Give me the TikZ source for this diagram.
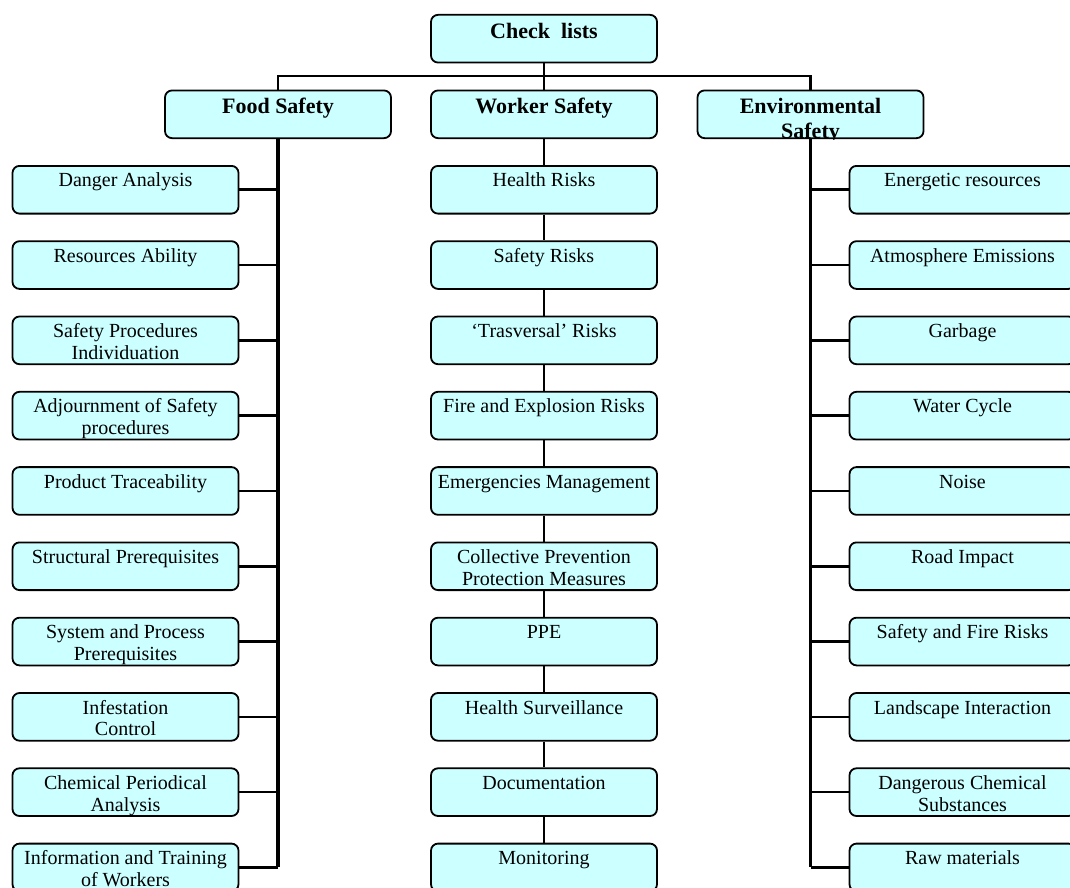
\documentclass[tikz,border=0pt]{standalone}
\usepackage{fontspec}
\setmainfont{Liberation Serif}
\usepackage{tikz}
\definecolor{boxcyan}{HTML}{CCFFFF}
\tikzset{
  listbox/.style={draw, line width=1.8pt, rounded corners=7pt, fill=boxcyan,
    inner xsep=2pt, inner ysep=5.85pt, font=\fontsize{20}{21.7}\selectfont,
    execute at begin node={\begin{minipage}[t][36pt][t]{222pt}\centering\strut},
    execute at end node={\end{minipage}}},
  headbox/.style={listbox, font=\bfseries\fontsize{22}{25}\selectfont},
  branchline/.style={line width=2.6pt},
  spineline/.style={line width=3.5pt}
}
\begin{document}
\begin{tikzpicture}[x=1pt, y=-1pt]
  \useasboundingbox (0,0) rectangle (1070,888);
  \clip (0,0) rectangle (1070,888);
  % Top level
  \node[headbox] (check) at (544,38.7) {Check\ \ lists};
  \coordinate (bus) at (544,76);
  \node[headbox] (food) at (278,114.3) {Food Safety};
  \node[headbox] (worker) at (544,114.3) {Worker Safety};
  \begin{scope}
    \clip (680,0) rectangle (940,139);
    \node[headbox] (env) at (810.5,114.3) {Environmental\\Safety};
  \end{scope}
  \draw[branchline] (check.south) -- (worker.north);
  \draw[branchline] (food.north) |- (bus) -| (env.north);
  % Food safety column
  \node[listbox] (f1) at (125.5,189.75) {Danger Analysis};
  \node[listbox] (f2) at (125.5,265.05) {Resources Ability};
  \node[listbox] (f3) at (125.5,340.35) {Safety Procedures\\Individuation};
  \node[listbox] (f4) at (125.5,415.65) {Adjournment of Safety\\procedures};
  \node[listbox] (f5) at (125.5,490.95) {Product Traceability};
  \node[listbox] (f6) at (125.5,566.25) {Structural Prerequisites};
  \node[listbox] (f7) at (125.5,641.55) {System and Process\\Prerequisites};
  \node[listbox] (f8) at (125.5,716.85) {Infestation\\Control};
  \node[listbox] (f9) at (125.5,792.15) {Chemical Periodical\\Analysis};
  \node[listbox] (f10) at (125.5,867.45) {Information and Training\\of Workers};
  \draw[branchline] (food.south |- f1.east) -- (f1.east)
    (food.south |- f2.east) -- (f2.east) (food.south |- f3.east) -- (f3.east)
    (food.south |- f4.east) -- (f4.east) (food.south |- f5.east) -- (f5.east)
    (food.south |- f6.east) -- (f6.east) (food.south |- f7.east) -- (f7.east)
    (food.south |- f8.east) -- (f8.east) (food.south |- f9.east) -- (f9.east)
    (food.south |- f10.east) -- (f10.east);
  \draw[spineline] (food.south) -- (food.south |- f10.east);
  % Worker safety column
  \node[listbox] (w1) at (544,189.75) {Health Risks};
  \node[listbox] (w2) at (544,265.05) {Safety Risks};
  \node[listbox] (w3) at (544,340.35) {‘Trasversal’ Risks};
  \node[listbox] (w4) at (544,415.65) {Fire and Explosion Risks};
  \node[listbox] (w5) at (544,490.95) {Emergencies Management};
  \node[listbox] (w6) at (544,566.25) {Collective Prevention\\Protection Measures};
  \node[listbox] (w7) at (544,641.55) {PPE};
  \node[listbox] (w8) at (544,716.85) {Health Surveillance};
  \node[listbox] (w9) at (544,792.15) {Documentation};
  \node[listbox] (w10) at (544,867.45) {Monitoring};
  \draw[branchline] (worker.south) -- (w1.north) (w1.south) -- (w2.north)
    (w2.south) -- (w3.north) (w3.south) -- (w4.north) (w4.south) -- (w5.north)
    (w5.south) -- (w6.north) (w6.south) -- (w7.north) (w7.south) -- (w8.north)
    (w8.south) -- (w9.north) (w9.south) -- (w10.north);
  % Environmental safety column
  \node[listbox] (e1) at (962.5,189.75) {Energetic resources};
  \node[listbox] (e2) at (962.5,265.05) {Atmosphere Emissions};
  \node[listbox] (e3) at (962.5,340.35) {Garbage};
  \node[listbox] (e4) at (962.5,415.65) {Water Cycle};
  \node[listbox] (e5) at (962.5,490.95) {Noise};
  \node[listbox] (e6) at (962.5,566.25) {Road Impact};
  \node[listbox] (e7) at (962.5,641.55) {Safety and Fire Risks};
  \node[listbox] (e8) at (962.5,716.85) {Landscape Interaction};
  \node[listbox] (e9) at (962.5,792.15) {Dangerous Chemical\\Substances};
  \node[listbox] (e10) at (962.5,867.45) {Raw materials};
  \draw[branchline] (env.south |- e1.west) -- (e1.west)
    (env.south |- e2.west) -- (e2.west) (env.south |- e3.west) -- (e3.west)
    (env.south |- e4.west) -- (e4.west) (env.south |- e5.west) -- (e5.west)
    (env.south |- e6.west) -- (e6.west) (env.south |- e7.west) -- (e7.west)
    (env.south |- e8.west) -- (e8.west) (env.south |- e9.west) -- (e9.west)
    (env.south |- e10.west) -- (e10.west);
  \draw[spineline] (env.south) -- (env.south |- e10.west);
\end{tikzpicture}
\end{document}
